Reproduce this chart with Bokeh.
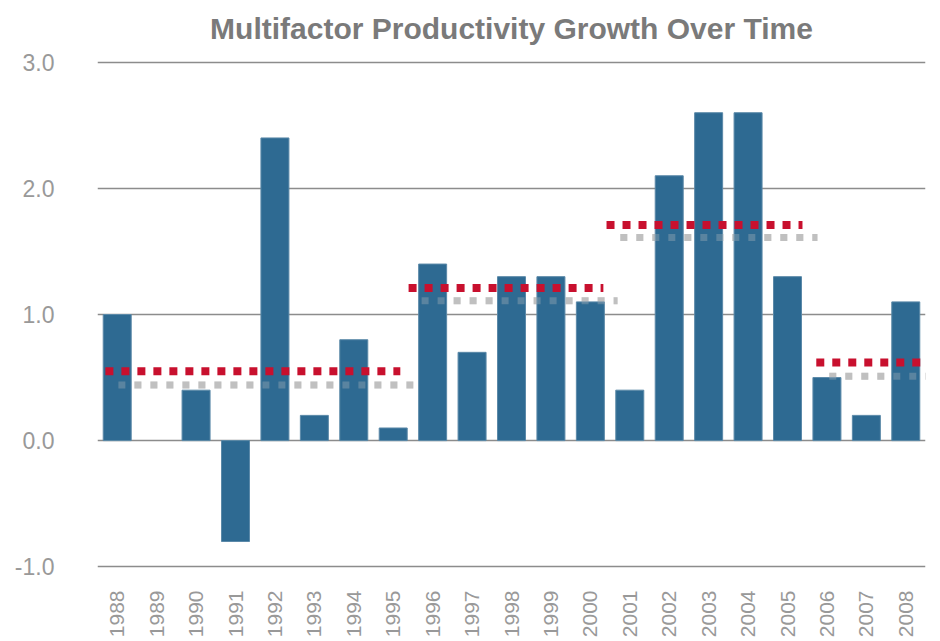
from bokeh.plotting import figure
from bokeh.models import Range1d, FixedTicker
from bokeh.embed import file_html
from bokeh.resources import INLINE
import math

# ---- data ----
years = [1988, 1989, 1990, 1991, 1992, 1993, 1994, 1995, 1996, 1997, 1998,
         1999, 2000, 2001, 2002, 2003, 2004, 2005, 2006, 2007, 2008]
growth = [1.0, 0.0, 0.4, -0.8, 2.4, 0.2, 0.8, 0.1, 1.4, 0.7, 1.3,
          1.3, 1.1, 0.4, 2.1, 2.6, 2.6, 1.3, 0.5, 0.2, 1.1]

# period averages (dotted lines), with the year spans they cover in the picture
red_avg = [0.55, 1.21, 1.71, 0.62]
red_x0 = [1987.70, 1995.39, 2000.41, 2005.73]
red_x1 = [1995.18, 2000.33, 2005.38, 2008.62]
gray_avg = [0.44, 1.11, 1.61, 0.51]
gray_x0 = [1988.03, 1995.72, 2000.76, 2006.06]
gray_x1 = [1995.51, 2000.69, 2005.76, 2008.75]

y_ticks = [-1.0, 0.0, 1.0, 2.0, 3.0]
title_text = "Multifactor Productivity Growth Over Time"

FONT = "Liberation Sans"

p = figure(frame_width=828, frame_height=512, output_backend="svg",
           toolbar_location=None,
           x_range=Range1d(1987.5, 2008.5), y_range=Range1d(-1.03, 3.03),
           min_border_left=97, min_border_right=7, min_border_top=58,
           min_border_bottom=63, title=title_text)
p.outline_line_color = None
p.background_fill_color = "white"
p.border_fill_color = "white"

p.title.align = "center"
p.title.vertical_align = "top"
p.title.text_font = FONT
p.title.text_font_size = "30px"
p.title.text_font_style = "bold"
p.title.text_color = "#7a7a7a"
p.title.standoff = 23
p.title.text_line_height = 0.8

# grid
p.xgrid.grid_line_color = None
p.ygrid.ticker = FixedTicker(ticks=y_ticks)
p.ygrid.grid_line_color = "#8c8c8c"
p.ygrid.grid_line_width = 1.6

# axes
p.yaxis.ticker = FixedTicker(ticks=y_ticks)
p.yaxis.axis_line_color = None
p.yaxis.major_tick_line_color = None
p.yaxis.minor_tick_line_color = None
p.yaxis.major_tick_out = 0
p.yaxis.major_tick_in = 0
p.yaxis.minor_tick_out = 0
p.yaxis.major_label_standoff = 43
p.yaxis.major_label_text_font = FONT
p.yaxis.major_label_text_font_size = "23px"
p.yaxis.major_label_text_color = "#999999"
p.yaxis.major_label_overrides = {t: f"{t:.1f}" for t in y_ticks}

p.xaxis.ticker = FixedTicker(ticks=years)
p.xaxis.axis_line_color = None
p.xaxis.major_tick_line_color = None
p.xaxis.minor_tick_line_color = None
p.xaxis.major_tick_out = 0
p.xaxis.major_tick_in = 0
p.xaxis.minor_tick_out = 0
p.xaxis.major_label_orientation = math.pi / 2
p.xaxis.major_label_standoff = 20
p.xaxis.major_label_text_font = FONT
p.xaxis.major_label_text_font_size = "21px"
p.xaxis.major_label_text_color = "#999999"
p.xaxis.major_label_overrides = {y: str(y) for y in years}

bar_vals = [(y, v) for y, v in zip(years, growth) if v != 0.0]

# gray dotted line underneath (opaque on white)
p.segment(x0=gray_x0, x1=gray_x1, y0=gray_avg, y1=gray_avg,
          line_color="#c0c0c0", line_width=7, line_dash="7 9", line_cap="butt")

p.vbar(x=[b[0] for b in bar_vals], top=[b[1] for b in bar_vals], bottom=0,
       width=0.71, fill_color="#2e6a92", line_color="#5b89a8", line_width=1)

# gray again, translucent on top of the bars
p.segment(x0=gray_x0, x1=gray_x1, y0=gray_avg, y1=gray_avg,
          line_color="#c0c0c0", line_alpha=0.3, line_width=7, line_dash="7 9",
          line_cap="butt")

p.segment(x0=red_x0, x1=red_x1, y0=red_avg, y1=red_avg,
          line_color="#c8102e", line_width=8, line_dash="8 8", line_cap="butt")

open("out.html", "w").write(file_html(p, INLINE))
